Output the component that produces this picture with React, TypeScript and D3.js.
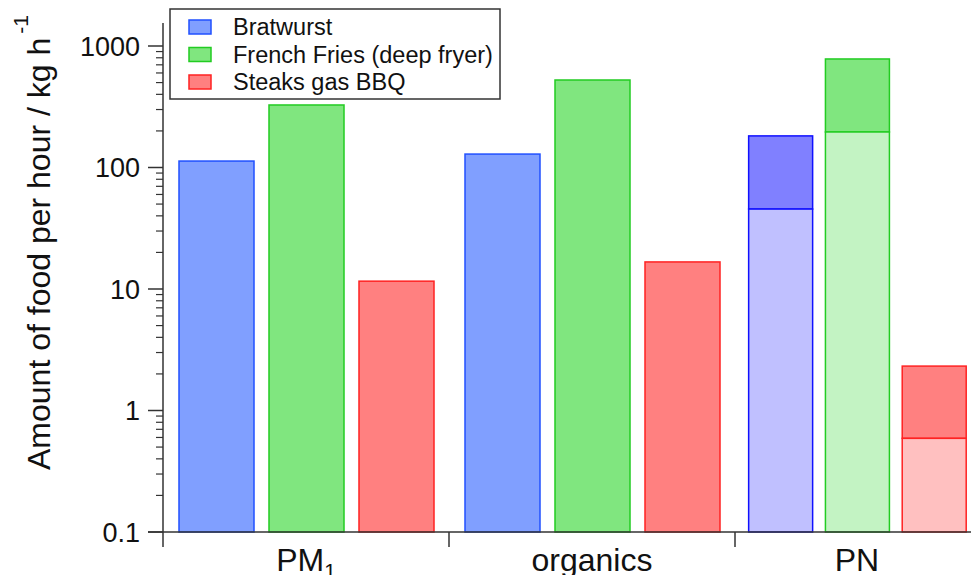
import React from "react";
import * as d3 from "d3";

const categories = ["PM", "organics", "PN"];
const categorySub = ["1", "", ""];
const series = ["Bratwurst", "French Fries (deep fryer)", "Steaks gas BBQ"];
// total value per category per series
const bratwurst = [113, 129, 182];
const frenchFries = [327, 525, 782];
const steaks = [11.6, 16.7, 2.32];
// lower (inner) portion for PN stacked-looking bars
const bratwurstLower = [null, null, 45.5];
const frenchFriesLower = [null, null, 196];
const steaksLower = [null, null, 0.59];
const yTicks = [0.1, 1, 10, 100, 1000];
const yTickLabels = ["0.1", "1", "10", "100", "1000"];

const W = 971;
const H = 575;
const FONT = "'Liberation Sans', Arial, Helvetica, sans-serif";

const fills = ["#809fff", "#80e67f", "#ff8080"];
const strokes = ["#2050ff", "#22cc22", "#ff2222"];
const fillsUpperPN = ["#8080ff", "#80e67f", "#ff8080"];
const strokesPN = ["#1010ff", "#22cc22", "#ff2222"];
const fillsLowerPN = ["#c0c0ff", "#c3f3c3", "#ffc0c0"];

export default function App() {
  const y = d3.scaleLog().domain([0.1, 1000]).range([532, 46]);
  // piecewise group scale: the last group is drawn narrower
  const gx = d3.scaleLinear().domain([0, 1, 2, 3]).range([163, 449, 735, 979]);
  const inner = d3.scaleLinear().domain([0, 286]).range([0, 1]);
  const barStart = (g: number, s: number) => {
    const w = gx(g + 1) - gx(g);
    return gx(g) + w * inner(16 + s * 90);
  };
  const barWidth = (g: number) => (gx(g + 1) - gx(g)) * inner(75);

  const totals = [bratwurst, frenchFries, steaks];
  const lowers = [bratwurstLower, frenchFriesLower, steaksLower];

  const minorTicks: number[] = [];
  for (let e = -1; e < 3; e++) {
    for (let m = 2; m <= 9; m++) minorTicks.push(m * Math.pow(10, e));
  }

  const bars: React.ReactNode[] = [];
  categories.forEach((_, g) => {
    series.forEach((__, s) => {
      const x0 = barStart(g, s);
      const bw = barWidth(g);
      const tot = totals[s][g];
      const low = lowers[s][g];
      if (low == null) {
        bars.push(
          <rect key={`b${g}${s}`} x={x0} y={y(tot)} width={bw} height={y(0.1) - y(tot)}
            fill={fills[s]} stroke={strokes[s]} strokeWidth={1.5} />
        );
      } else {
        bars.push(
          <rect key={`bu${g}${s}`} x={x0} y={y(tot)} width={bw} height={y(low) - y(tot)}
            fill={fillsUpperPN[s]} stroke={strokesPN[s]} strokeWidth={1.5} />
        );
        bars.push(
          <rect key={`bl${g}${s}`} x={x0} y={y(low)} width={bw} height={y(0.1) - y(low)}
            fill={fillsLowerPN[s]} stroke={strokesPN[s]} strokeWidth={1.5} />
        );
      }
    });
  });

  const axisX = gx(0);
  const baseY = y(0.1);

  return (
    <svg width={W} height={H} style={{ position: "absolute", left: 0, top: 0 }} fontFamily={FONT}>
      <rect x={0} y={0} width={W} height={H} fill="#fff" />
      {bars}
      {/* y axis */}
      <line x1={axisX} x2={axisX} y1={23} y2={547} stroke="#333" strokeWidth={1.5} />
      {yTicks.map((t, i) => (
        <g key={`yt${i}`}>
          <line x1={axisX - 15} x2={axisX} y1={y(t)} y2={y(t)} stroke="#333" strokeWidth={1.5} />
          <text x={140} y={y(t)} dy="0.36em" textAnchor="end" fontSize={27} fill="#111">
            {yTickLabels[i]}
          </text>
        </g>
      ))}
      {minorTicks.map((t, i) => (
        <line key={`ym${i}`} x1={axisX - 7} x2={axisX} y1={y(t)} y2={y(t)} stroke="#333" strokeWidth={1.2} />
      ))}
      {/* x axis */}
      <line x1={axisX - 15} x2={W} y1={baseY} y2={baseY} stroke="#333" strokeWidth={1.5} />
      {[1, 2].map((g) => (
        <line key={`xt${g}`} x1={gx(g)} x2={gx(g)} y1={baseY} y2={baseY + 15} stroke="#333" strokeWidth={1.5} />
      ))}
      {categories.map((c, g) => (
        <text key={`xl${g}`} x={(gx(g) + gx(g + 1)) / 2} y={571} textAnchor="middle" fontSize={32} fill="#111">
          {c}
          {categorySub[g] ? <tspan fontSize={21} dy={7}>{categorySub[g]}</tspan> : null}
        </text>
      ))}
      {/* y title */}
      <text transform="translate(50,470) rotate(-90)" fontSize={32} fill="#111">
        Amount of food per hour / kg h
        <tspan fontSize={21} dy={-22} dx={4}>-1</tspan>
      </text>
      {/* legend */}
      <rect x={170} y={9} width={330} height={90} fill="#fff" stroke="#333" strokeWidth={1.5} />
      {series.map((s, i) => (
        <g key={`lg${i}`}>
          <rect x={189} y={20 + i * 27.5} width={22} height={14} fill={fills[i]} stroke={strokes[i]} strokeWidth={1.5} />
          <text x={233} y={27 + i * 27.5} dy="0.36em" fontSize={23.5} fill="#111">{s}</text>
        </g>
      ))}
    </svg>
  );
}
